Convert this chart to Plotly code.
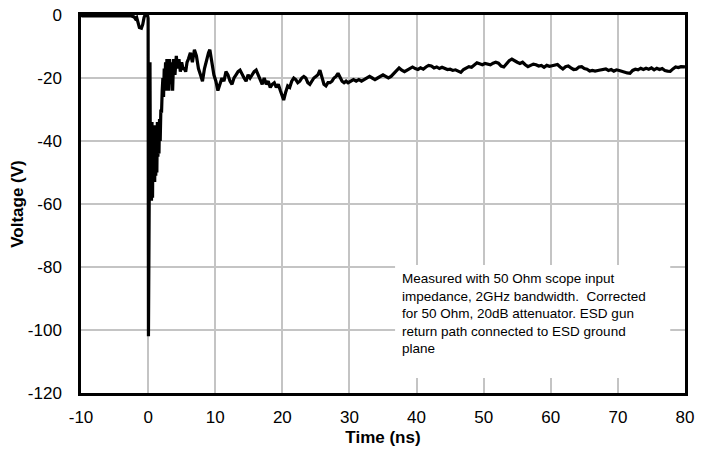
import plotly.graph_objects as go

time_ns = [-10, -9.8, -8, -6, -4, -2.5, -2.1, -1.9, -1.7, -1.5, -1.3, -1.0, -0.8, -0.6, -0.45, -0.1,
           0.0, 0.05, 0.16, 0.28, 0.35, 0.42, 0.5, 0.58, 0.66, 0.74, 0.82, 0.9, 0.98, 1.06, 1.14,
           1.22, 1.3, 1.38, 1.46, 1.54, 1.62, 1.7, 1.8, 1.9, 2.0, 2.1, 2.2, 2.3, 2.4, 2.5, 2.6,
           2.7, 2.8, 2.9, 3.0, 3.1, 3.2, 3.35, 3.5, 3.65, 3.8, 4.0, 4.2, 4.4, 4.6, 4.8, 5.0, 5.2,
           5.4, 5.6, 5.8, 6.0, 6.3, 6.6, 6.9, 7.2, 7.5, 7.8, 8.1, 8.4, 8.7, 9.0, 9.2, 9.5, 9.8,
           10.1, 10.4, 10.7, 11.0, 11.3, 11.6, 11.9, 12.2, 12.5, 12.8, 13.1, 13.4, 13.7, 14.0,
           14.3, 14.6, 14.9, 15.2, 15.5, 15.8, 16.1, 16.4, 16.7, 17.0, 17.3, 17.6, 17.9, 18.2,
           18.5, 18.8, 19.1, 19.4, 19.7, 20.0, 20.2, 20.5, 20.8, 21.1, 21.4, 21.7, 22.0, 22.3,
           22.6, 22.9, 23.2, 23.5, 23.8, 24.1, 24.4, 24.7, 25.0, 25.3, 25.6, 25.9, 26.2, 26.5,
           26.8, 27.1, 27.4, 27.7, 28.0, 28.3, 28.6, 28.9, 29.2, 29.5, 29.8, 30.2, 30.6, 31.0,
           31.4, 31.8, 32.2, 32.6, 33.0, 33.4, 33.8, 34.2, 34.6, 35.0, 35.4, 35.8, 36.2, 36.6,
           37.0, 37.4, 37.8, 38.2, 38.6, 39.0, 39.4, 39.8, 40.2, 40.6, 41.0, 41.4, 41.8, 42.2,
           42.6, 43.0, 43.4, 43.8, 44.2, 44.6, 45.0, 45.4, 45.8, 46.2, 46.6, 47.0, 47.4, 47.8,
           48.2, 48.6, 49.0, 49.4, 49.8, 50.2, 50.6, 51.0, 51.4, 51.8, 52.2, 52.6, 53.0, 53.4,
           53.8, 54.2, 54.6, 55.0, 55.4, 55.8, 56.2, 56.6, 57.0, 57.4, 57.8, 58.2, 58.6, 59.0,
           59.4, 59.8, 60.2, 60.6, 61.0, 61.4, 61.8, 62.2, 62.6, 63.0, 63.4, 63.8, 64.2, 64.6,
           65.0, 65.4, 65.8, 66.2, 66.6, 67.0, 67.4, 67.8, 68.2, 68.6, 69.0, 69.4, 69.8, 70.2,
           70.6, 71.0, 71.4, 71.8, 72.2, 72.6, 73.0, 73.4, 73.8, 74.2, 74.6, 75.0, 75.4, 75.8,
           76.2, 76.6, 77.0, 77.4, 77.8, 78.2, 78.6, 79.0, 79.4, 80.0]

voltage_v = [0, -0.3, -0.2, -0.3, -0.2, -0.3, -0.6, -1.2, -0.8, -2.5, -4.0, -4.2, -3.0, -0.8, 0, 0,
             -1, -102, -60, -15, -59, -36, -59, -34, -58, -35, -52, -36, -53, -35, -51,
             -36, -50, -34, -45, -35, -44, -33, -40, -30, -31, -24, -20, -26, -17, -22, -15,
             -24, -14, -23, -16, -24, -14, -22, -15, -24, -14, -19, -13, -17, -14, -18, -15, -17,
             -17, -18, -15, -14, -12, -15, -11, -13, -17, -19, -21, -17, -14, -12, -11, -15, -19,
             -21, -24, -22, -20, -21, -18, -19, -21, -22, -20, -19, -18, -17.5, -19,
             -20, -21, -19, -20, -19, -18, -17.5, -19, -21, -22, -20, -22, -21, -23,
             -22, -21.5, -23, -22, -24, -26, -27, -24.5, -22.5, -23, -21, -20, -20.5, -21.5,
             -21, -20, -19.5, -20, -21.5, -22, -21, -20, -19.5, -19, -17.5, -19.5, -22, -22.5,
             -21.5, -21.5, -21, -20, -19.5, -18.5, -20, -21, -21.5, -21, -21.5, -21, -20.5, -21,
             -20.5, -21, -20.5, -20, -19.5, -20, -20.5, -20, -19.5, -19, -19.5, -20, -19.5, -18.5,
             -17.5, -16.8, -17.5, -18, -17.5, -17, -16.5, -17, -17.3, -16.8, -17.2, -16.5, -16, -16.2,
             -16.8, -16.5, -17, -16.6, -17, -17.3, -17.2, -17.6, -17.4, -17.8, -18.2, -17.3, -16.7, -16.4,
             -16.6, -15.8, -15.2, -15.5, -15.8, -15.4, -15.6, -15.8, -15.3, -15, -15.3, -16.2, -16.5, -15.6,
             -14.5, -14, -14.6, -15, -15.4, -15, -15.8, -16.4, -16, -15.6, -15.8, -16.2, -16, -16.6,
             -16, -16.3, -16.1, -15.9, -15.7, -16.5, -17.1, -16.4, -16.2, -16.8, -17.3, -17.2, -16.5, -16.4,
             -17, -17.2, -17.8, -17.6, -17.8, -17.6, -17.5, -17.4, -17.1, -17.6, -17.3, -17.8, -17.4, -17.6,
             -17.9, -18.2, -18.4, -18.5, -17.6, -17.2, -17.4, -16.9, -17.3, -16.9, -17.2, -16.8, -17.4, -16.9,
             -17.3, -17, -17.6, -17.8, -17.9, -17.1, -16.5, -16.7, -16.4, -16.5]

x_ticks = [-10, 0, 10, 20, 30, 40, 50, 60, 70, 80]
y_ticks = [-120, -100, -80, -60, -40, -20, 0]

note_lines = ["Measured with 50 Ohm scope input",
              "impedance, 2GHz bandwidth.  Corrected",
              "for 50 Ohm, 20dB attenuator. ESD gun",
              "return path connected to ESD ground",
              "plane"]

FONT = "Liberation Sans, Arial, sans-serif"

fig = go.Figure()
fig.add_trace(go.Scatter(x=time_ns, y=voltage_v, mode="lines",
                         line=dict(color="black", width=3.2), showlegend=False))

fig.add_shape(type="rect", xref="x", yref="y", x0=36.8, x1=77.8, y0=-115.2, y1=-79.4,
              fillcolor="white", line=dict(width=0), layer="above")
fig.add_annotation(x=37.6, y=-80.6, xref="x", yref="y", xanchor="left", yanchor="top",
                   align="left", showarrow=False, text="<br>".join(note_lines),
                   font=dict(family=FONT, size=13.5, color="black"))

axis_common = dict(showline=True, mirror=True, linecolor="black", linewidth=2.5,
                   showgrid=True, gridcolor="#c4c4c4", gridwidth=1.5, zeroline=False,
                   automargin=False, ticklabeloverflow="allow",
                   ticks="", tickfont=dict(family=FONT, size=17, color="black"))

fig.update_xaxes(range=[-10, 80], tickvals=x_ticks, ticktext=[str(v) for v in x_ticks],
                 ticklabelstandoff=7,
                 title=dict(text="<b>Time (ns)</b>", font=dict(family=FONT, size=17, color="black"),
                            standoff=5),
                 **axis_common)
fig.update_yaxes(range=[-120, 0], tickvals=y_ticks, ticktext=[str(v) for v in y_ticks],
                 ticklabelstandoff=13,
                 title=dict(text="<b>Voltage (V)</b>", font=dict(family=FONT, size=17, color="black"),
                            standoff=0),
                 **axis_common)

fig.update_layout(width=712, height=454, margin=dict(l=81, r=27, t=15, b=61),
                  paper_bgcolor="white", plot_bgcolor="white",
                  font=dict(family=FONT, color="black"))

# remove the default 8px page margin so the figure fills the 712x454 window exactly
fig.write_html("out.html", config={"displayModeBar": False},
               post_script="document.body.style.margin='0';document.body.style.overflow='hidden';")
